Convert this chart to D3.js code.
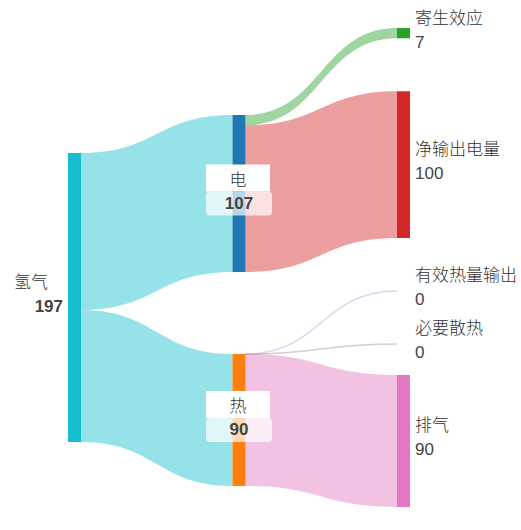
<!DOCTYPE html>
<html>
<head>
<meta charset="utf-8">
<script src="https://cdn.jsdelivr.net/npm/d3@7"></script>
<style>
    body { margin: 0; background: #fff; }
    text { font-family: "Noto Sans CJK SC", "Noto Sans", sans-serif; font-weight: 300; }
    .num { font-family: "Liberation Sans", Arial, sans-serif; font-weight: normal; }
</style>
</head>
<body>
<div id="chart"></div>
<script>
// nodes and links of the energy flow
var nodeNames = ['氢气', '电', '热', '寄生效应', '净输出电量', '有效热量输出', '必要散热', '排气'];
var nodeColors = ['#17becf', '#1f77b4', '#ff7f0e', '#2ca02c', '#d62728', '#9467bd', '#8c564b', '#e377c2'];
var linkSources = ['氢气', '氢气', '电', '电', '热', '热', '热'];
var linkTargets = ['电', '热', '寄生效应', '净输出电量', '有效热量输出', '必要散热', '排气'];
var linkValues = [107, 90, 7, 100, 0, 0, 90];

var width = 521,
    height = 530,
    nodeWidth = 13,
    chartTop = 28,
    chartBottom = 507,
    minPadding = 30;

// layout params per column (null center = stack from top)
var colCenter = [297.5, 300.5, null],
    colPadding = [0, 82, 53];

var svg = d3.select('#chart').append('svg')
    .attr('width', width)
    .attr('height', height);

var nodes = nodeNames.map(function (name, i) {
    return {name: name, color: nodeColors[i], index: i, sourceLinks: [], targetLinks: []};
});
var byName = {};
nodes.forEach(function (n) { byName[n.name] = n; });

var links = linkValues.map(function (v, i) {
    var l = {source: byName[linkSources[i]], target: byName[linkTargets[i]], value: v};
    l.source.sourceLinks.push(l);
    l.target.targetLinks.push(l);
    return l;
});

// node value and depth
nodes.forEach(function (n) {
    n.value = Math.max(d3.sum(n.sourceLinks, function (l) { return l.value; }),
        d3.sum(n.targetLinks, function (l) { return l.value; }));
});
function setDepth(n, d) {
    n.depth = Math.max(n.depth || 0, d);
    n.sourceLinks.forEach(function (l) { setDepth(l.target, d + 1); });
}
nodes.filter(function (n) { return !n.targetLinks.length; }).forEach(function (n) { setDepth(n, 0); });

var maxDepth = d3.max(nodes, function (n) { return n.depth; });
var totalValue = d3.sum(nodes.filter(function (n) { return n.depth === 0; }), function (n) { return n.value; });

var x = d3.scaleLinear().domain([0, maxDepth]).range([68, 397]);
var ky = d3.scaleLinear().domain([0, totalValue]).range([0, 289]);

// stack the nodes of every column, then push back up from the bottom
d3.range(maxDepth + 1).forEach(function (c) {
    var col = nodes.filter(function (n) { return n.depth === c; });
    var total = d3.sum(col, function (n) { return ky(n.value); }) + (col.length - 1) * colPadding[c];
    var y = colCenter[c] == null ? chartTop : colCenter[c] - total / 2;
    col.forEach(function (n) {
        n.x0 = x(c);
        n.x1 = n.x0 + nodeWidth;
        n.y0 = y;
        n.y1 = y + ky(n.value);
        y = n.y1 + colPadding[c];
    });
    var limit = chartBottom;
    col.slice().reverse().forEach(function (n) {
        var dy = n.y1 - limit;
        if (dy > 0) { n.y0 -= dy; n.y1 -= dy; }
        limit = n.y0 - minPadding;
    });
});

// link offsets inside nodes
nodes.forEach(function (n) {
    n.sourceLinks.sort(function (a, b) { return a.target.y0 - b.target.y0; });
    n.targetLinks.sort(function (a, b) { return a.source.y0 - b.source.y0; });
    var sy = n.y0, ty = n.y0;
    n.sourceLinks.forEach(function (l) { l.y0 = sy; l.width = ky(l.value); sy += l.width; });
    n.targetLinks.forEach(function (l) { l.y1 = ty; ty += ky(l.value); });
});

var linkColor = function (l) {
    return l.source.depth === 0 ? l.source.color : l.target.color;
};

var bandPath = function (l) {
    var x0 = l.source.x1, x1 = l.target.x0, xm = (x0 + x1) / 2, w = l.width;
    var p = d3.path();
    p.moveTo(x0, l.y0);
    p.bezierCurveTo(xm, l.y0, xm, l.y1, x1, l.y1);
    p.lineTo(x1, l.y1 + w);
    p.bezierCurveTo(xm, l.y1 + w, xm, l.y0 + w, x0, l.y0 + w);
    p.closePath();
    return p.toString();
};

var lineGen = d3.linkHorizontal()
    .source(function (l) { return [l.source.x1, l.y0]; })
    .target(function (l) { return [l.target.x0, l.y1]; });

svg.append('g').selectAll('path.band')
    .data(links.filter(function (l) { return l.value > 0; }))
    .enter().append('path')
    .attr('class', 'band')
    .attr('d', bandPath)
    .attr('fill', linkColor)
    .attr('fill-opacity', 0.45);

svg.append('g').selectAll('path.zero')
    .data(links.filter(function (l) { return l.value === 0; }))
    .enter().append('path')
    .attr('class', 'zero')
    .attr('d', lineGen)
    .attr('fill', 'none')
    .attr('stroke', linkColor)
    .attr('stroke-opacity', 0.3)
    .attr('stroke-width', 1.5);

svg.append('g').selectAll('rect')
    .data(nodes)
    .enter().append('rect')
    .attr('x', function (n) { return n.x0; })
    .attr('y', function (n) { return n.y0; })
    .attr('width', nodeWidth)
    .attr('height', function (n) { return n.y1 - n.y0; })
    .attr('fill', function (n) { return n.color; });

// labels
var labels = svg.append('g');
var addName = function (xPos, yPos, anchor, name) {
    labels.append('text').attr('x', xPos).attr('y', yPos)
        .attr('text-anchor', anchor).attr('dominant-baseline', 'central')
        .style('font-size', '17px').attr('fill', '#333').text(name);
};
var addValue = function (xPos, yPos, anchor, value, bold) {
    labels.append('text').attr('class', 'num').attr('x', xPos).attr('y', yPos)
        .attr('text-anchor', anchor).attr('dominant-baseline', 'central')
        .style('font-size', '17px').style('font-weight', bold ? 'bold' : 'normal')
        .attr('fill', '#444').text(value);
};

nodes.forEach(function (n) {
    var cy = (n.y0 + n.y1) / 2;
    if (n.depth === 0) {
        addName(n.x0 - 20, cy - 17, 'end', n.name);
        addValue(n.x0 - 5, cy + 9, 'end', n.value, true);
    } else if (n.depth === maxDepth) {
        addName(n.x1 + 5, cy - 17, 'start', n.name);
        addValue(n.x1 + 5, cy + 9, 'start', n.value, false);
    } else {
        var cx = (n.x0 + n.x1) / 2 - 1;
        labels.append('rect').attr('x', cx - 32).attr('y', cy - 29).attr('width', 64).attr('height', 27)
            .attr('fill', '#fff');
        labels.append('rect').attr('x', cx - 32).attr('y', cy - 2).attr('width', 66).attr('height', 24)
            .attr('rx', 4).attr('fill', '#fff').attr('fill-opacity', 0.7);
        addName(cx, cy - 15, 'middle', n.name);
        addValue(cx + 1, cy + 10, 'middle', n.value, true);
    }
});
</script>
</body>
</html>
